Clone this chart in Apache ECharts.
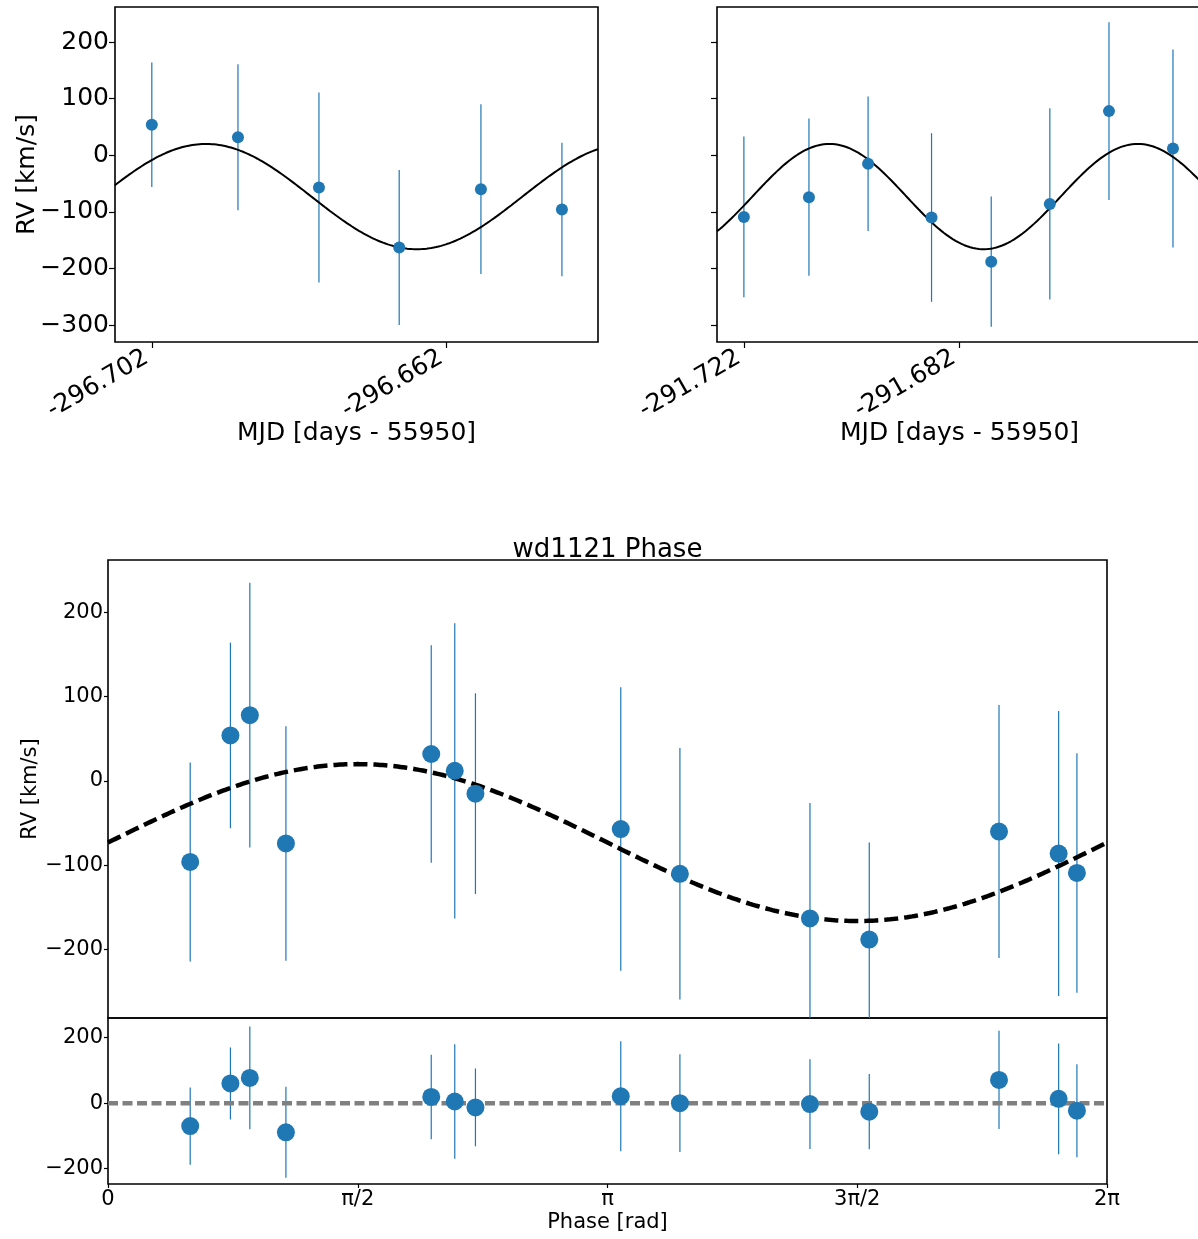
<!DOCTYPE html>
<html>
<head>
<meta charset="utf-8">
<script src="https://cdn.jsdelivr.net/npm/echarts@6/dist/echarts.min.js"></script>
<style>
html,body{margin:0;padding:0;background:#fff;}
#chart{width:1198px;height:1239px;}
</style>
</head>
<body>
<div id="chart"></div>
<script>
// ---------------- data ----------------
// night 1 (top-left panel)
const night1Time = [-296.702, -296.6903, -296.6793, -296.6684, -296.6573, -296.6463];
const night1RV   = [54, 32, -57, -163, -60, -96];
const night1Err  = [110, 129, 168, 137, 150, 118];
const night1Phase = [0.770, 2.033, 3.225, 4.415, 5.604, 0.517];
const night1Resid = [60, 19, 21, -3, 71, -70];

// night 2 (top-right panel)
const night2Time = [-291.722, -291.7099, -291.6989, -291.6871, -291.6760, -291.6651, -291.6541, -291.6422];
const night2RV   = [-109, -74, -15, -110, -188, -86, 78, 12];
const night2Err  = [142, 139, 119, 149, 115, 169, 157, 175];
const night2Phase = [6.094, 1.119, 2.311, 3.597, 4.788, 5.979, 0.892, 2.181];
const night2Resid = [-23, -89, -13, 0, -26, 13, 77, 5];

// fitted sinusoid parameters
const modelGamma = -73;      // km/s
const modelK = 93;           // km/s
const modelPeriod = 0.05734; // days
const modelT0 = -296.709;    // days (phase zero)

// axis ranges and tick labels
const night1XRange = [-296.7070, -296.6414];
const night2XRange = [-291.7270, -291.6368];
const night1XTicks = [-296.702, -296.662];
const night2XTicks = [-291.722, -291.682];
const topYRange = [-330, 262];
const topYTicks = [-300, -200, -100, 0, 100, 200];
const phaseYRange = [-281, 262];
const phaseYTicks = [-200, -100, 0, 100, 200];
const residYRange = [-247, 260];
const residYTicks = [-200, 0, 200];
const phaseXTicks = [0, Math.PI / 2, Math.PI, 3 * Math.PI / 2, 2 * Math.PI];
const phaseXLabels = ['0', 'π/2', 'π', '3π/2', '2π'];

// ---------------- helpers ----------------
const BLUE = '#1f77b4';
const FONT = 'DejaVu Sans';
function minusFmt(v) { return v < 0 ? '\u2212' + Math.abs(v) : String(v); }
function rvModelTime(t) { return modelGamma + modelK * Math.sin(2 * Math.PI * (t - modelT0) / modelPeriod); }
function rvModelPhase(p) { return modelGamma + modelK * Math.sin(p); }
function sampleCurve(range, fn, n) {
  const out = [];
  for (let i = 0; i <= n; i++) {
    const x = range[0] + (range[1] - range[0]) * i / n;
    out.push([x, fn(x)]);
  }
  return out;
}
function zip3(a, b, c) { return a.map((v, i) => [v, b[i], c[i]]); }

const errItem = (lw) => function (params, api) {
  const x = api.value(0), y = api.value(1), e = api.value(2);
  const p1 = api.coord([x, y - e]);
  const p2 = api.coord([x, y + e]);
  return { type: 'line', shape: { x1: p1[0], y1: p1[1], x2: p2[0], y2: p2[1] },
           style: { stroke: BLUE, lineWidth: lw } };
};

const phaseAll = night1Phase.concat(night2Phase);
const rvAll = night1RV.concat(night2RV);
const errAll = night1Err.concat(night2Err);
const residAll = night1Resid.concat(night2Resid);

const grids = [
  { left: 115, top: 7, width: 483, height: 335 },
  { left: 717, top: 7, width: 485, height: 335 },
  { left: 108, top: 560, width: 999, height: 458 },
  { left: 108, top: 1018, width: 999, height: 166 }
].map(g => Object.assign({ show: true, borderColor: '#000', borderWidth: 1.6, backgroundColor: 'transparent',
                           outerBoundsMode: 'none', containLabel: false }, g));

const tickStyle = { color: '#000', width: 1.2 };
const noLine = { show: false, onZero: false };

const xAxes = [
  { gridIndex: 0, type: 'value', min: night1XRange[0], max: night1XRange[1],
    axisLine: noLine, splitLine: { show: false },
    axisTick: { show: true, length: 6, lineStyle: tickStyle, customValues: night1XTicks },
    axisLabel: { customValues: night1XTicks, rotate: 30, margin: 11, padding: [0, 6, 0, 0], fontSize: 25, fontFamily: FONT, color: '#000',
                 formatter: v => v.toFixed(3) },
    name: 'MJD [days - 55950]', nameLocation: 'middle', nameGap: 79, nameMoveOverlap: false,
    nameTextStyle: { fontSize: 25, fontFamily: FONT, color: '#000', verticalAlign: 'top' } },
  { gridIndex: 1, type: 'value', min: night2XRange[0], max: night2XRange[1],
    axisLine: noLine, splitLine: { show: false },
    axisTick: { show: true, length: 6, lineStyle: tickStyle, customValues: night2XTicks },
    axisLabel: { customValues: night2XTicks, rotate: 30, margin: 11, padding: [0, 6, 0, 0], fontSize: 25, fontFamily: FONT, color: '#000',
                 formatter: v => v.toFixed(3) },
    name: 'MJD [days - 55950]', nameLocation: 'middle', nameGap: 79, nameMoveOverlap: false,
    nameTextStyle: { fontSize: 25, fontFamily: FONT, color: '#000', verticalAlign: 'top' } },
  { gridIndex: 2, type: 'value', min: 0, max: 2 * Math.PI,
    axisLine: noLine, splitLine: { show: false },
    axisTick: { show: false }, axisLabel: { show: false } },
  { gridIndex: 3, type: 'value', min: 0, max: 2 * Math.PI,
    axisLine: noLine, splitLine: { show: false },
    axisTick: { show: true, length: 4, lineStyle: tickStyle, customValues: phaseXTicks },
    axisLabel: { customValues: phaseXTicks, margin: 5, fontSize: 21, fontFamily: FONT, color: '#000',
                 formatter: v => { let best = 0; phaseXTicks.forEach((t, i) => { if (Math.abs(t - v) < Math.abs(phaseXTicks[best] - v)) best = i; }); return phaseXLabels[best]; } },
    name: 'Phase [rad]', nameLocation: 'middle', nameGap: 28, nameMoveOverlap: false,
    nameTextStyle: { fontSize: 21, fontFamily: FONT, color: '#000', verticalAlign: 'top' } }
];

const yAxes = [
  { gridIndex: 0, type: 'value', min: topYRange[0], max: topYRange[1],
    axisLine: noLine, splitLine: { show: false },
    axisTick: { show: true, length: 6, lineStyle: tickStyle, customValues: topYTicks },
    axisLabel: { customValues: topYTicks, margin: 6, fontSize: 25, fontFamily: FONT, color: '#000', formatter: minusFmt },
    name: 'RV [km/s]', nameLocation: 'middle', nameGap: 75, nameRotate: 90, nameMoveOverlap: false,
    nameTextStyle: { fontSize: 25, fontFamily: FONT, color: '#000' } },
  { gridIndex: 1, type: 'value', min: topYRange[0], max: topYRange[1],
    axisLine: noLine, splitLine: { show: false },
    axisTick: { show: true, length: 6, lineStyle: tickStyle, customValues: topYTicks },
    axisLabel: { show: false } },
  { gridIndex: 2, type: 'value', min: phaseYRange[0], max: phaseYRange[1],
    axisLine: noLine, splitLine: { show: false },
    axisTick: { show: true, length: 4, lineStyle: tickStyle, customValues: phaseYTicks },
    axisLabel: { customValues: phaseYTicks, margin: 5, fontSize: 21, fontFamily: FONT, color: '#000', formatter: minusFmt },
    name: 'RV [km/s]', nameLocation: 'middle', nameGap: 67, nameRotate: 90, nameMoveOverlap: false,
    nameTextStyle: { fontSize: 21, fontFamily: FONT, color: '#000' } },
  { gridIndex: 3, type: 'value', min: residYRange[0], max: residYRange[1],
    axisLine: noLine, splitLine: { show: false },
    axisTick: { show: true, length: 4, lineStyle: tickStyle, customValues: residYTicks },
    axisLabel: { customValues: residYTicks, margin: 5, fontSize: 21, fontFamily: FONT, color: '#000', formatter: minusFmt } }
];

const series = [
  // top-left
  { type: 'custom', xAxisIndex: 0, yAxisIndex: 0, clip: true, z: 2,
    data: zip3(night1Time, night1RV, night1Err), renderItem: errItem(1.2), encode: { x: 0, y: 1 } },
  { type: 'line', xAxisIndex: 0, yAxisIndex: 0, showSymbol: false, z: 3,
    data: sampleCurve(night1XRange, rvModelTime, 400), lineStyle: { color: '#000', width: 2 } },
  { type: 'scatter', xAxisIndex: 0, yAxisIndex: 0, symbolSize: 12, z: 4,
    data: night1Time.map((t, i) => [t, night1RV[i]]), itemStyle: { color: BLUE, opacity: 1 } },
  // top-right
  { type: 'custom', xAxisIndex: 1, yAxisIndex: 1, clip: true, z: 2,
    data: zip3(night2Time, night2RV, night2Err), renderItem: errItem(1.2), encode: { x: 0, y: 1 } },
  { type: 'line', xAxisIndex: 1, yAxisIndex: 1, showSymbol: false, z: 3,
    data: sampleCurve(night2XRange, rvModelTime, 500), lineStyle: { color: '#000', width: 2 } },
  { type: 'scatter', xAxisIndex: 1, yAxisIndex: 1, symbolSize: 12, z: 4,
    data: night2Time.map((t, i) => [t, night2RV[i]]), itemStyle: { color: BLUE, opacity: 1 } },
  // phase panel
  { type: 'custom', xAxisIndex: 2, yAxisIndex: 2, clip: true, z: 2,
    data: zip3(phaseAll, rvAll, errAll), renderItem: errItem(1.2), encode: { x: 0, y: 1 } },
  { type: 'line', xAxisIndex: 2, yAxisIndex: 2, showSymbol: false, z: 3,
    data: sampleCurve([0, 2 * Math.PI], rvModelPhase, 400),
    lineStyle: { color: '#000', width: 4.5, type: [14, 6] } },
  { type: 'scatter', xAxisIndex: 2, yAxisIndex: 2, symbolSize: 18, z: 4,
    data: phaseAll.map((p, i) => [p, rvAll[i]]), itemStyle: { color: BLUE, opacity: 1 } },
  // residuals
  { type: 'custom', xAxisIndex: 3, yAxisIndex: 3, clip: true, z: 2,
    data: zip3(phaseAll, residAll, errAll), renderItem: errItem(1.2), encode: { x: 0, y: 1 } },
  { type: 'line', xAxisIndex: 3, yAxisIndex: 3, showSymbol: false, z: 3,
    data: [[0, 0], [2 * Math.PI, 0]],
    lineStyle: { color: '#808080', width: 4.5, type: [10, 4.5] } },
  { type: 'scatter', xAxisIndex: 3, yAxisIndex: 3, symbolSize: 18, z: 4,
    data: phaseAll.map((p, i) => [p, residAll[i]]), itemStyle: { color: BLUE, opacity: 1 } }
];

const chart = echarts.init(document.getElementById('chart'), null, { renderer: 'canvas' });
chart.setOption({
  animation: false,
  backgroundColor: '#fff',
  grid: grids,
  xAxis: xAxes,
  yAxis: yAxes,
  series: series,
  graphic: [{ type: 'text', x: 607.5, y: 563, z: 10,
    style: { text: 'wd1121 Phase', fontSize: 26, fontFamily: FONT, fill: '#000', textAlign: 'center', textVerticalAlign: 'bottom', verticalAlign: 'bottom' } }]
});
</script>
</body>
</html>
